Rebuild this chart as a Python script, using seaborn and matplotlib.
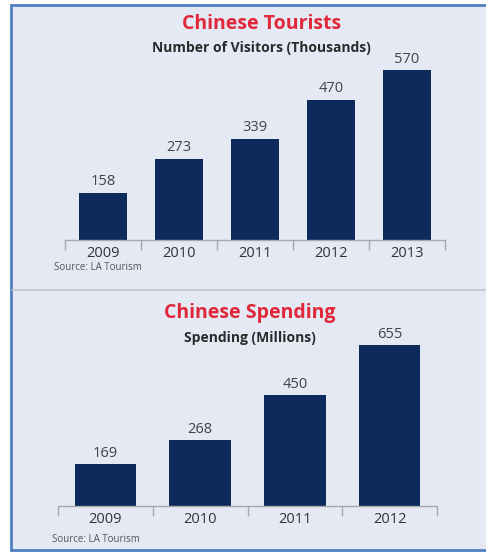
import matplotlib
matplotlib.use("Agg")
import matplotlib.pyplot as plt
import seaborn as sns
import pandas as pd
from matplotlib.patches import Rectangle
from matplotlib.lines import Line2D

# ---- data ----
tourist_years = ["2009", "2010", "2011", "2012", "2013"]
tourist_values = [158, 273, 339, 470, 570]
spending_years = ["2009", "2010", "2011", "2012"]
spending_values = [169, 268, 450, 655]

sns.set_theme(style="white")
plt.rcParams["font.family"] = ["Open Sans", "DejaVu Sans"]

W, H = 486, 552
BG = "#e4e9f4"
BAR = "#0c2a5c"
RED = "#e0283a"
fig = plt.figure(figsize=(W / 100, H / 100), dpi=100)
fig.patch.set_facecolor(BG)

def px(x, y):
    return x / W, 1 - y / H

# white margin and blue frame
fig.patches.append(Rectangle((0, 0), 1, 1, transform=fig.transFigure,
                             facecolor="white", edgecolor="none", zorder=-3))
x0, y0 = px(11, 5)
x1, y1 = px(500, 550)
fig.patches.append(Rectangle((x0, y1), x1 - x0, y0 - y1, transform=fig.transFigure,
                             facecolor=BG, edgecolor="#4f7fbf", linewidth=2, zorder=-2))
# divider
fig.lines.append(Line2D([px(12, 0)[0], 1], [px(0, 290)[1]] * 2, transform=fig.transFigure,
                        color="#c4c6ca", linewidth=1.2))

def panel(years, values, left, right, base, top_val_px, bar_w, ymax):
    l = left / W
    w = (right - left) / W
    b = 1 - base / H
    h = (base - top_val_px) / H
    ax = fig.add_axes([l, b, w, h])
    ax.set_facecolor("none")
    df = pd.DataFrame({"year": years, "value": values})
    sns.barplot(data=df, x="year", y="value", color=BAR, width=bar_w,
                saturation=1, linewidth=0, ax=ax)
    n = len(years)
    ax.set_xlim(-0.5, n - 0.5)
    ax.set_ylim(0, ymax)
    for s in ["top", "right", "left"]:
        ax.spines[s].set_visible(False)
    ax.spines["bottom"].set_color("#a8a8a8")
    ax.spines["bottom"].set_linewidth(1.0)
    ax.set_yticks([])
    ax.set_xlabel("")
    ax.set_ylabel("")
    ax.set_xticks(range(n))
    ax.set_xticklabels(years, fontsize=10.5, color="#333333")
    ax.tick_params(axis="x", which="major", length=0, pad=4)
    ax.set_xticks([i - 0.5 for i in range(n + 1)], minor=True)
    ax.tick_params(axis="x", which="minor", length=7, width=1, color="#a8a8a8",
                   direction="out", bottom=True)
    for i, v in enumerate(values):
        ax.text(i, v + ymax * 0.02, str(v), ha="center", va="bottom",
                fontsize=10.5, color="#444444")
    return ax

panel(tourist_years, tourist_values, 65, 445, 240, 70, 0.63, 570)
panel(spending_years, spending_values, 58, 437, 506, 345, 0.65, 655)

def text(x, y, s, **kw):
    fx, fy = px(x, y)
    fig.text(fx, fy, s, **kw)

text(262, 24, "Chinese Tourists", ha="center", va="center", fontsize=14,
     fontweight="bold", color=RED)
text(261, 48, "Number of Visitors (Thousands)", ha="center", va="center",
     fontsize=10, fontweight="bold", color="#2a2a2a")
text(250, 313, "Chinese Spending", ha="center", va="center", fontsize=14,
     fontweight="bold", color=RED)
text(250, 338, "Spending (Millions)", ha="center", va="center",
     fontsize=10, fontweight="bold", color="#2a2a2a")
text(54, 268, "Source: LA Tourism", ha="left", va="center", fontsize=7,
     color="#555555")
text(52, 540, "Source: LA Tourism", ha="left", va="center", fontsize=7,
     color="#555555")

fig.savefig("out.png", dpi=100, facecolor=fig.get_facecolor())
